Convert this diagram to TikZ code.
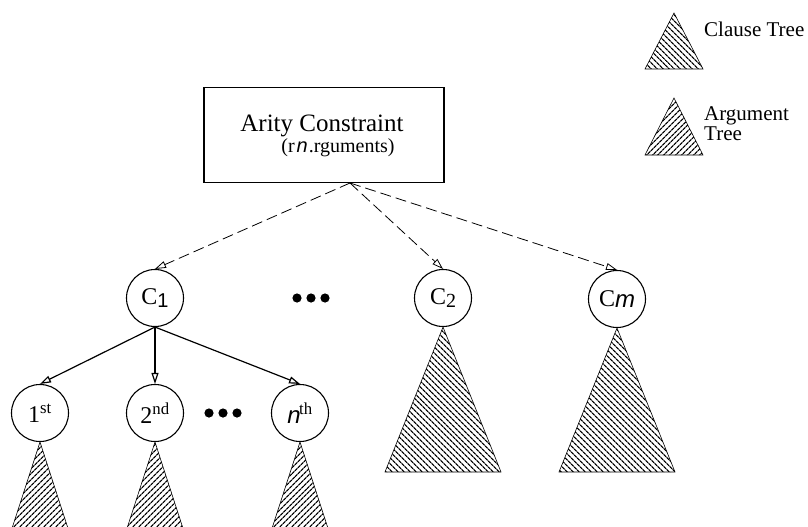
\documentclass[tikz,border=0pt]{standalone}
\usepackage{fontspec}
\setmainfont{Liberation Serif}
\setsansfont{Liberation Sans}
\usetikzlibrary{arrows.meta,patterns.meta}
\tikzset{
  vert/.style={draw, circle, line width=1.1pt, minimum size=57pt, inner sep=0pt, font=\fontsize{24}{26}\selectfont},
  clausehatch/.style={draw, line width=0.6pt, pattern={Lines[angle=-45, distance=4pt, line width=1.3pt]}},
  arghatch/.style={draw, line width=0.6pt, pattern={Lines[angle=45, distance=4pt, line width=1.3pt]}},
  openhead/.style={-{Triangle[open, length=11pt, width=7pt]}},
  solidlink/.style={openhead, line width=1.2pt},
  dashlink/.style={openhead, line width=0.8pt, dash pattern=on 11pt off 5pt},
  legendtext/.style={anchor=west, align=left, inner sep=0pt, font=\fontsize{21}{21}\selectfont},
}
\newcommand{\ital}[1]{{\sffamily\itshape #1}}
\begin{document}
\begin{tikzpicture}[x=1pt, y=-1pt]
  \useasboundingbox (0,0) rectangle (808,527);
  \clip (0,0) rectangle (808,527);

  % root box
  \node[draw, line width=1.1pt, minimum width=240pt, minimum height=95pt, inner sep=0pt] (root) at (324,135) {};
  \node[font=\fontsize{25}{27}\selectfont] (title) at (322,126) {Arity Constraint};
  \node[font=\fontsize{20}{22}\selectfont] (sub) at (338,148) {(r\kern2pt\ital{n}\kern1pt.rguments)};
  \coordinate (rootbot) at (350,183);

  % clause nodes
  \node[vert] (c1) at (155,298) {C\raisebox{-0.3ex}{\fontsize{20}{20}\selectfont\sffamily 1}};
  \node[vert] (c2) at (443,298) {C\raisebox{-0.3ex}{\fontsize{20}{20}\selectfont 2}};
  \node[vert] (cm) at (617,299) {C\raisebox{-0.1ex}{\ital{m}}};

  % argument nodes
  \node[vert] (a1) at (40,413) {1\textsuperscript{st}};
  \node[vert] (a2) at (155,413) {2\textsuperscript{nd}};
  \node[vert] (an) at (300,413) {\ital{n}\kern-1.5pt\textsuperscript{th}};

  % ellipsis dots
  \foreach \x in {297,311,325} \fill (\x,298) circle (4.6pt);
  \foreach \x in {209,223,237} \fill (\x,413) circle (4.6pt);

  % connectors
  \draw[dashlink] (rootbot) -- (c1.north);
  \draw[dashlink] (rootbot) -- (c2.north);
  \draw[dashlink] (rootbot) -- (cm.north);
  \draw[solidlink] (c1.south) -- (a1.north);
  \draw[solidlink] (c1.south) -- (a2.north);
  \draw[solidlink] (c1.south) -- (an.north);

  % clause subtrees
  \draw[clausehatch] (c2.south) -- (501,472) -- (385,472) -- cycle;
  \draw[clausehatch] (cm.south) -- (675,472) -- (559,472) -- cycle;

  % argument subtrees (run off the bottom edge)
  \draw[arghatch] (a1.south) -- (75,550) -- (5,550) -- cycle;
  \draw[arghatch] (a2.south) -- (190,550) -- (120,550) -- cycle;
  \draw[arghatch] (an.south) -- (335,550) -- (265,550) -- cycle;

  % legend
  \draw[clausehatch] (674,13) -- (703,69) -- (645,69) -- cycle;
  \node[legendtext] (lclause) at (704,29) {Clause Tree};
  \draw[arghatch] (674,98) -- (703,155) -- (645,155) -- cycle;
  \node[legendtext] (larg) at (704,124) {Argument\\[-1pt]Tree};
\end{tikzpicture}
\end{document}
